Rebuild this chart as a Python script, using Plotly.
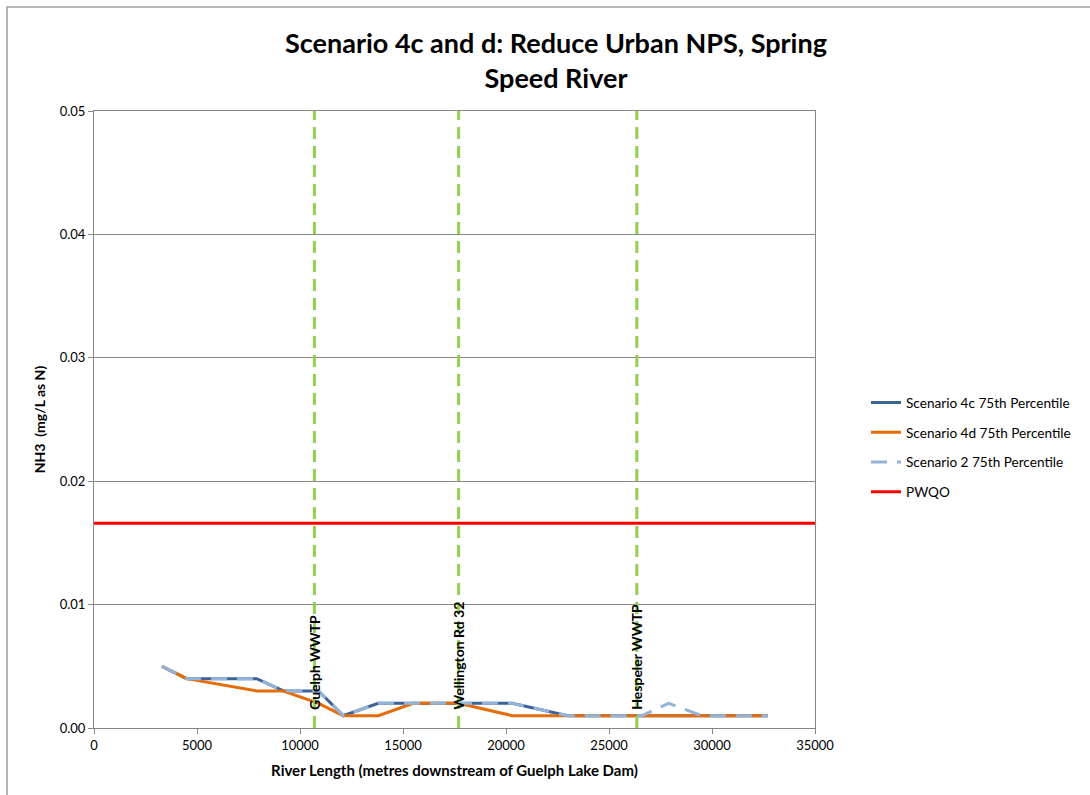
import plotly.graph_objects as go

# River distance (m downstream of Guelph Lake Dam) at each model node
distance_m = [3300, 4500, 7900, 9200, 10900, 12100, 13800, 15500, 17700,
              20300, 23000, 26600, 27900, 29500, 32700]

# 75th percentile NH3 (mg/L as N)
scen_4c = [0.005, 0.004, 0.004, 0.003, 0.003, 0.001, 0.002, 0.002, 0.002,
           0.002, 0.001, 0.001, 0.001, 0.001, 0.001]
scen_4d = [0.005, 0.004, 0.003, 0.003, 0.002, 0.001, 0.001, 0.002, 0.002,
           0.001, 0.001, 0.001, 0.001, 0.001, 0.001]
scen_2 = [0.005, 0.004, 0.004, 0.003, 0.003, 0.001, 0.002, 0.002, 0.002,
          0.002, 0.001, 0.001, 0.002, 0.001, 0.001]

pwqo_value = 0.0166
pwqo_x = [0, 35000]

# Landmarks along the river
landmark_names = ["Guelph WWTP", "Wellington Rd 32", "Hespeler WWTP"]
landmark_x = [10700, 17700, 26350]

x_ticks = [0, 5000, 10000, 15000, 20000, 25000, 30000, 35000]
y_ticks = [0.00, 0.01, 0.02, 0.03, 0.04, 0.05]

FONT = "Lato"

fig = go.Figure()

fig.add_trace(go.Scatter(x=distance_m, y=scen_4c, mode="lines",
                         name="Scenario 4c 75th Percentile", legendgroup="a",
                         line=dict(color="#3A6399", width=3)))
fig.add_trace(go.Scatter(x=distance_m, y=scen_4d, mode="lines",
                         name="Scenario 4d 75th Percentile", legendgroup="b",
                         line=dict(color="#E46C0A", width=3)))
fig.add_trace(go.Scatter(x=distance_m, y=scen_2, mode="lines",
                         name="Scenario 2 75th Percentile", legendgroup="c",
                         line=dict(color="#95B3D7", width=3, dash="16px,10px")))
fig.add_trace(go.Scatter(x=pwqo_x, y=[pwqo_value, pwqo_value], mode="lines",
                         name="PWQO", legendgroup="d",
                         line=dict(color="#FF0000", width=3)))

for name, lx in zip(landmark_names, landmark_x):
    fig.add_trace(go.Scatter(x=[lx, lx], y=[0, 0.05], mode="lines",
                             showlegend=False, hoverinfo="skip",
                             line=dict(color="#92D050", width=3, dash="12px,7px")))
    fig.add_annotation(x=lx, y=0.0013, xref="x", yref="y", text=f"<b>{name}</b>",
                       textangle=-90, showarrow=False, xanchor="center",
                       yanchor="bottom",
                       font=dict(family=FONT, size=14, color="#000000"))

# Two-line chart heading
fig.add_annotation(x=(556 - 94) / 721, y=(728 - 24) / 617, xref="paper", yref="paper",
                   text="<b>Scenario 4c and d: Reduce Urban NPS, Spring<br>Speed River</b>",
                   showarrow=False, xanchor="center", yanchor="top", align="center",
                   font=dict(family=FONT, size=27, color="#000000"))

fig.update_layout(
    width=1090, height=795,
    margin=dict(l=94, r=275, t=111, b=67),
    paper_bgcolor="white", plot_bgcolor="white",
    font=dict(family=FONT, size=12, color="#000000"),
    legend=dict(x=(866 - 94) / 721, xanchor="left", y=0.455, yanchor="middle",
                font=dict(family=FONT, size=13.6, color="#000000"),
                tracegroupgap=9, bgcolor="rgba(0,0,0,0)"),
    showlegend=True,
)

fig.update_xaxes(range=[0, 35000], tickvals=x_ticks,
                 ticktext=[str(v) for v in x_ticks],
                 showgrid=False, zeroline=False,
                 showline=True, linecolor="#868686", linewidth=1, mirror=True,
                 ticks="outside", ticklen=5, tickcolor="#868686",
                 tickfont=dict(family=FONT, size=13, color="#000000"),
                 title=dict(text="<b>River Length (metres downstream of Guelph Lake Dam)</b>",
                            font=dict(family=FONT, size=15, color="#000000"),
                            standoff=13))
fig.update_yaxes(range=[0, 0.05], tickvals=y_ticks,
                 ticktext=[f"{v:.2f}" for v in y_ticks],
                 showgrid=True, gridcolor="#868686", gridwidth=1, zeroline=False,
                 showline=True, linecolor="#868686", linewidth=1, mirror=True,
                 ticks="outside", ticklen=5, tickcolor="#868686",
                 tickfont=dict(family=FONT, size=13, color="#000000"),
                 title=dict(text="<b>NH3  (mg/L as N)</b>",
                            font=dict(family=FONT, size=14, color="#000000"),
                            standoff=10))

# Outer chart frame
fig.add_shape(type="rect", xref="paper", yref="paper",
              x0=(7 - 94) / 721, x1=(1100 - 94) / 721,
              y0=(728 - 810) / 617, y1=(728 - 7) / 617,
              line=dict(color="#A0A0A0", width=1.5), fillcolor="rgba(0,0,0,0)",
              layer="below")

fig.write_html("out.html")
